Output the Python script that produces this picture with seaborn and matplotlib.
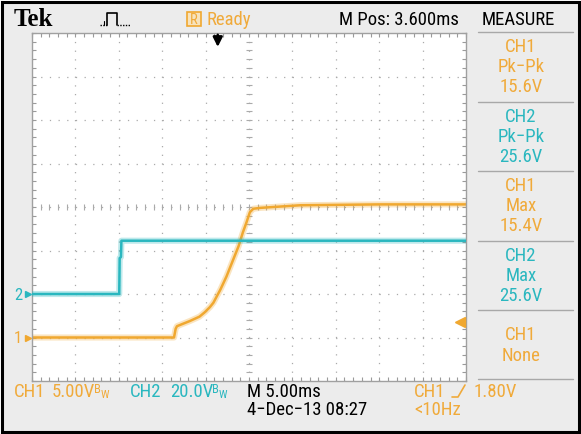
import numpy as np
import pandas as pd
import matplotlib
matplotlib.use("Agg")
import matplotlib.pyplot as plt
import seaborn as sns
from matplotlib.lines import Line2D
from matplotlib.patches import Rectangle
from matplotlib.ticker import MultipleLocator
from matplotlib import font_manager

# ---------------- data ----------------
# time on screen in ms (0 = left edge of graticule, 10 div x 5 ms)
ch1_t = [0.0, 16.36, 16.55, 16.7, 18.2, 19.3, 19.9, 20.5, 20.9, 21.7, 22.4, 23.2, 23.8,
         24.3, 24.7, 25.1, 25.5, 26.3, 30.9, 40.0, 50.0]
ch1_v = [0.0, 0.0, 1.0, 1.3, 1.9, 2.4, 2.9, 3.5, 4.0, 5.5, 7.0, 9.0, 10.5,
         12.1, 13.2, 14.4, 14.8, 14.9, 15.2, 15.3, 15.3]
ch2_t = [0.0, 10.05, 10.1, 10.25, 10.3, 20.0, 35.0, 50.0]
ch2_v = [0.0, 0.0, 16.5, 17.0, 24.5, 24.5, 24.5, 24.5]

TIME_PER_DIV = 5.0          # ms
M_POS = 3.6                 # ms
CH1_VDIV, CH1_GND = 5.0, -3  # V/div, ground position (div from centre)
CH2_VDIV, CH2_GND = 20.0, -2
TRIG_LEVEL = 1.80

measure_titles = ["CH1", "CH2", "CH1", "CH2", "CH1"]
measure_kinds = ["Pk\u2212Pk", "Pk\u2212Pk", "Max", "Max", "None"]
measure_vals = ["15.6V", "25.6V", "15.4V", "25.6V", ""]

# ---------------- style ----------------
sns.set_style("white")
fl = font_manager.fontManager.ttflist
names = {f.name for f in fl}
STRETCH = "normal"
if "Liberation Sans Narrow" in names:
    SCOPE = ["Liberation Sans Narrow", "DejaVu Sans"]
elif "Roboto Condensed" in names:
    SCOPE = ["Roboto Condensed", "DejaVu Sans"]
elif any(f.name == "DejaVu Sans" and f.stretch == "condensed" for f in fl):
    SCOPE = ["DejaVu Sans"]
    STRETCH = "condensed"
else:
    SCOPE = ["Liberation Sans", "DejaVu Sans"]
plt.rcParams["font.family"] = SCOPE
plt.rcParams["font.stretch"] = STRETCH
FS = 13.5

ORANGE = "#f0a830"
ORANGE_T = "#f0aa3a"
CYAN = "#2ab7bf"
GRIDC = "#aaaaaa"
BG = "#ececec"

W, H = 581, 435
def fx(x): return x / W
def fy(y): return 1 - y / H

fig = plt.figure(figsize=(W / 100, H / 100), dpi=100, facecolor="white")
fig.add_artist(Rectangle((fx(2.5), fy(432.5)), 576 / W, 430 / H, transform=fig.transFigure,
                         facecolor=BG, edgecolor="black", lw=2.2, zorder=0))

ax = fig.add_axes([fx(32), fy(382), 434 / W, 348 / H])
ax.set_facecolor("white")
ax2 = ax.twinx()

ax.set_xlim(0, 10 * TIME_PER_DIV)
ax.set_ylim((-4 - CH1_GND) * CH1_VDIV, (4 - CH1_GND) * CH1_VDIV)

# traces
df1 = pd.DataFrame({"t": ch1_t, "v": ch1_v})
df2 = pd.DataFrame({"t": ch2_t, "v": ch2_v})
sns.lineplot(data=df1, x="t", y="v", ax=ax, color=ORANGE, lw=4.4, alpha=0.3,
             estimator=None, sort=False, legend=False)
sns.lineplot(data=df1, x="t", y="v", ax=ax, color=ORANGE, lw=1.8,
             estimator=None, sort=False, legend=False)
sns.lineplot(data=df2, x="t", y="v", ax=ax2, color=CYAN, lw=4.4, alpha=0.3,
             estimator=None, sort=False, legend=False)
sns.lineplot(data=df2, x="t", y="v", ax=ax2, color=CYAN, lw=1.8,
             estimator=None, sort=False, legend=False)
ax2.set_ylim((-4 - CH2_GND) * CH2_VDIV, (4 - CH2_GND) * CH2_VDIV)
ax.set_xlim(0, 10 * TIME_PER_DIV)
for a in (ax, ax2):
    a.set_xlabel("")
    a.set_ylabel("")

# graticule
ax.xaxis.set_major_locator(MultipleLocator(TIME_PER_DIV))
ax.yaxis.set_major_locator(MultipleLocator(CH1_VDIV))
ax.xaxis.set_minor_locator(MultipleLocator(TIME_PER_DIV / 5))
ax.yaxis.set_minor_locator(MultipleLocator(CH1_VDIV / 5))
ax.grid(which="major", color=GRIDC, lw=0.9, linestyle=(0, (1, 5.94)))
ax.set_axisbelow(True)
ax.tick_params(which="both", direction="in", top=True, right=True, bottom=True, left=True,
               length=3, width=0.8, color="#9a9a9a",
               labelbottom=False, labelleft=False, labeltop=False, labelright=False)
ax2.set_yticks([])
ax2.tick_params(right=False, labelright=False)
for s in ax.spines.values():
    s.set_color("#a0a0a0")
    s.set_linewidth(1.0)
for s in ax2.spines.values():
    s.set_visible(False)

# centre cross tick marks
xc = 5 * TIME_PER_DIV
yc = -CH1_GND * CH1_VDIV
ax.plot(np.arange(1, 50), np.full(49, yc), ls="none", marker="|", ms=4, mew=0.8, color=GRIDC, zorder=1)
ax.plot(np.full(39, xc), np.arange(-4, 35), ls="none", marker="_", ms=4, mew=0.8, color=GRIDC, zorder=1)

# trigger position arrow (top)
trig_t = xc - M_POS
ax.annotate("", xy=(trig_t, 33.4), xytext=(trig_t, 34.8),
            arrowprops=dict(arrowstyle="-|>", color="black", lw=1.8, mutation_scale=14,
                            shrinkA=0, shrinkB=0), annotation_clip=False, zorder=6)
# trigger level arrow (right)
ax.plot([49.3], [TRIG_LEVEL], marker="<", ms=7, color=ORANGE, ls="none", clip_on=False, zorder=6)
# ground markers (left)
ax.plot([-0.5], [0], marker=">", ms=5, color=ORANGE, ls="none", clip_on=False, zorder=6)
ax2.plot([-0.5], [0], marker=">", ms=5, color=CYAN, ls="none", clip_on=False, zorder=6)
ax.text(-1.6, 0, "1", color=ORANGE_T, fontsize=12, ha="center", va="center", clip_on=False)
ax2.text(-1.6, 0, "2", color=CYAN, fontsize=12, ha="center", va="center", clip_on=False)

# ---------------- header ----------------
fig.text(fx(14), fy(20), "Tek", family=["Liberation Serif", "DejaVu Serif"], weight="bold",
         fontsize=18, color="black", ha="left", va="center", fontstretch="normal")
# run icon
fig.add_artist(Line2D([fx(107), fx(107), fx(117), fx(117)], [fy(26), fy(14), fy(14), fy(26)],
                      transform=fig.transFigure, color="black", lw=1.2))
fig.add_artist(Line2D([fx(100), fx(107)], [fy(26), fy(26)], transform=fig.transFigure,
                      color="black", lw=1.0, ls=(0, (1, 1))))
fig.add_artist(Line2D([fx(117), fx(130)], [fy(26), fy(26)], transform=fig.transFigure,
                      color="black", lw=1.0, ls=(0, (1, 1))))
fig.add_artist(Line2D([fx(104), fx(104)], [fy(22), fy(26)], transform=fig.transFigure, color="black", lw=0.8))
# R box + Ready
fig.add_artist(Rectangle((fx(187), fy(27)), 14 / W, 14 / H, transform=fig.transFigure,
                         facecolor="#f7e3bd", edgecolor=ORANGE, lw=1.2))
fig.text(fx(194), fy(20.5), "R", color=ORANGE_T, fontsize=10.5, ha="center", va="center")
fig.text(fx(206), fy(20), "Ready", color=ORANGE_T, fontsize=FS, ha="left", va="center")
fig.text(fx(459), fy(20), "M Pos: 3.600ms", color="black", fontsize=FS, ha="right", va="center")
fig.text(fx(518), fy(20), "MEASURE", color="black", fontsize=FS, ha="center", va="center")

# ---------------- measure panel ----------------
def hline(y, x0=478, x1=573):
    fig.add_artist(Line2D([fx(x0), fx(x1)], [fy(y), fy(y)], transform=fig.transFigure,
                          color="#a8a8a8", lw=1.0))

seps = [33, 103, 172, 242, 311, 380]
for y in seps:
    hline(y)
for i, (ttl, kind, val) in enumerate(zip(measure_titles, measure_kinds, measure_vals)):
    col = ORANGE_T if ttl == "CH1" else CYAN
    top = seps[i]
    lines = [ttl, kind] + ([val] if val else [])
    if val:
        ys = [top + 14, top + 34, top + 54]
    else:
        ys = [top + 24, top + 45]
    for txt, y in zip(lines, ys):
        fig.text(fx(521), fy(y), txt, color=col, fontsize=FS, ha="center", va="center")

# ---------------- footer ----------------
def ftxt(x, y, s, c, fs=FS):
    return fig.text(fx(x), fy(y), s, color=c, fontsize=fs, ha="left", va="center")

ftxt(14, 392, "CH1", ORANGE_T)
ftxt(52, 392, "5.00V", ORANGE_T)
ftxt(94, 390, "B", ORANGE_T, 9)
ftxt(101, 395, "W", ORANGE_T, 8)
ftxt(130, 392, "CH2", CYAN)
ftxt(170, 392, "20.0V", CYAN)
ftxt(212, 390, "B", CYAN, 9)
ftxt(219, 395, "W", CYAN, 8)
ftxt(247, 392, "M 5.00ms", "black")
ftxt(247, 410, "4\u2212Dec\u221213 08:27", "black")
ftxt(414, 392, "CH1", ORANGE_T)
fig.add_artist(Line2D([fx(452), fx(458), fx(465)], [fy(398), fy(398), fy(386)],
                      transform=fig.transFigure, color=ORANGE_T, lw=1.2))
ftxt(474, 392, "1.80V", ORANGE_T)
ftxt(414, 410, "<10Hz", ORANGE_T)

fig.savefig("out.png", dpi=100, facecolor="white")
